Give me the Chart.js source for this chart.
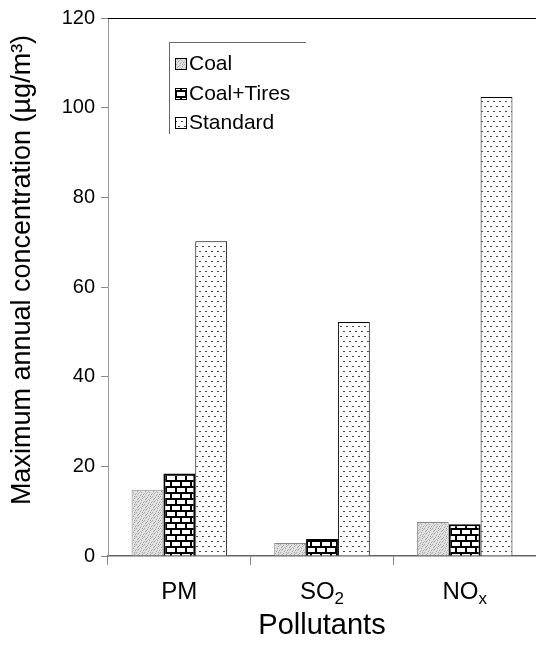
<!DOCTYPE html>
<html>
<head>
<meta charset="utf-8">
<script src="https://cdn.jsdelivr.net/npm/chart.js@4/dist/chart.umd.min.js"></script>
<style>
  body { margin: 0; background: #fff; }
  canvas { display: block; }
</style>
</head>
<body>
<canvas id="chart" width="536" height="651"></canvas>
<script>
// data
var categories = ['PM', 'SO2', 'NOx'];
var coal = [14.8, 2.9, 7.6];
var coalTires = [18.4, 3.8, 7.1];
var standard = [70.2, 52.2, 102.4];
var yTicks = [0, 20, 40, 60, 80, 100, 120];

// x labels with subscripts: [main, sub]
var xLabelParts = { PM: ['PM', ''], SO2: ['SO', '2'], NOx: ['NO', 'x'] };
var yTitle = 'Maximum annual concentration (µg/m³)';

var FONT = '"Liberation Sans", Arial, sans-serif';

function makeTile(w, h, draw) {
  var c = document.createElement('canvas');
  c.width = w; c.height = h;
  var g = c.getContext('2d');
  draw(g);
  return document.getElementById('chart').getContext('2d').createPattern(c, 'repeat');
}

// grey stipple
var coalFill = makeTile(8, 8, function (g) {
  g.fillStyle = '#e0e0e0'; g.fillRect(0, 0, 8, 8);
  g.fillStyle = '#a0a0a0';
  [[0,0],[3,1],[6,2],[1,3],[5,4],[2,5],[7,6],[4,7],[6,0],[2,2]].forEach(function (p) { g.fillRect(p[0], p[1], 1, 1); });
  g.fillStyle = '#c4c4c4';
  [[1,6],[4,3],[7,1],[0,5],[5,6],[3,4]].forEach(function (p) { g.fillRect(p[0], p[1], 1, 1); });
});

// brick
var brickFill = makeTile(10, 12, function (g) {
  g.fillStyle = '#fff'; g.fillRect(0, 0, 10, 12);
  g.fillStyle = '#000';
  g.fillRect(0, 0, 10, 2);
  g.fillRect(0, 6, 10, 2);
  g.fillRect(0, 2, 2, 4);
  g.fillRect(5, 8, 2, 4);
});

// sparse dots
var dotFill = makeTile(6, 10, function (g) {
  g.fillStyle = '#fff'; g.fillRect(0, 0, 6, 10);
  g.fillStyle = '#444';
  g.fillRect(1, 1, 2, 1);
  g.fillRect(4, 6, 2, 1);
});

var legendPlugin = {
  id: 'legendBox',
  afterDraw: function (chart) {
    var ctx = chart.ctx;
    var area = chart.chartArea;
    ctx.save();
    // top frame line
    ctx.strokeStyle = '#000';
    ctx.lineWidth = 1;
    ctx.beginPath();
    ctx.moveTo(area.left, area.top + 0.5);
    ctx.lineTo(area.right, area.top + 0.5);
    ctx.stroke();

    // legend box
    ctx.strokeStyle = '#666';
    ctx.beginPath();
    ctx.moveTo(169.5, 134);
    ctx.lineTo(169.5, 42.5);
    ctx.lineTo(306, 42.5);
    ctx.stroke();
    var ys = [64, 94, 123];
    ctx.font = '21px ' + FONT;
    ctx.textBaseline = 'middle';
    chart.data.datasets.forEach(function (ds, i) {
      ctx.fillStyle = ds.backgroundColor;
      ctx.fillRect(175, ys[i] - 6, 12, 12);
      ctx.strokeStyle = '#000';
      ctx.strokeRect(175.5, ys[i] - 5.5, 11, 11);
      ctx.fillStyle = '#000';
      ctx.fillText(ds.label, 189, ys[i]);
    });

    // y title
    ctx.save();
    ctx.translate(23, 270);
    ctx.rotate(-Math.PI / 2);
    ctx.font = '27px ' + FONT;
    ctx.textAlign = 'center';
    ctx.fillText(yTitle, 0, 0);
    ctx.restore();

    // x category labels with subscripts
    var xs = chart.scales.x;
    ctx.textBaseline = 'alphabetic';
    categories.forEach(function (c, i) {
      var parts = xLabelParts[c];
      ctx.font = '24px ' + FONT;
      var w1 = ctx.measureText(parts[0]).width;
      ctx.font = '17px ' + FONT;
      var w2 = parts[1] ? ctx.measureText(parts[1]).width : 0;
      var x0 = xs.getPixelForValue(i) - (w1 + w2) / 2;
      ctx.font = '24px ' + FONT;
      ctx.fillText(parts[0], x0, 599);
      if (parts[1]) {
        ctx.font = '17px ' + FONT;
        ctx.fillText(parts[1], x0 + w1, 604);
      }
    });
    ctx.restore();
  }
};

new Chart(document.getElementById('chart'), {
  type: 'bar',
  data: {
    labels: categories,
    datasets: [
      { label: 'Coal', data: coal, backgroundColor: coalFill, borderColor: '#888', borderWidth: 1 },
      { label: 'Coal+Tires', data: coalTires, backgroundColor: brickFill, borderColor: '#000', borderWidth: 2 },
      { label: 'Standard', data: standard, backgroundColor: dotFill, borderColor: '#000', borderWidth: 1 }
    ]
  },
  options: {
    responsive: false,
    animation: false,
    layout: { padding: { top: 16, right: 0, bottom: 8, left: 0 } },
    datasets: { bar: { categoryPercentage: 0.67, barPercentage: 1 } },
    plugins: { legend: { display: false }, tooltip: { enabled: false } },
    scales: {
      x: {
        grid: { offset: true, drawOnChartArea: false, drawTicks: true, tickLength: 9, color: '#888' },
        border: { color: '#666', width: 1.5 },
        ticks: { display: false },
        title: { display: true, text: 'Pollutants', color: '#000', font: { size: 29, family: FONT }, padding: 0 },
        afterFit: function (s) { s.height = 87; }
      },
      y: {
        min: 0, max: 120,
        afterBuildTicks: function (s) { s.ticks = yTicks.map(function (v) { return { value: v }; }); },
        grid: { drawOnChartArea: false, drawTicks: true, tickLength: 7, color: '#888' },
        border: { color: '#999', width: 1 },
        ticks: { color: '#000', padding: 6, font: { size: 20, family: FONT } },
        afterFit: function (s) { s.width = 108; }
      }
    }
  },
  plugins: [legendPlugin]
});
</script>
</body>
</html>
